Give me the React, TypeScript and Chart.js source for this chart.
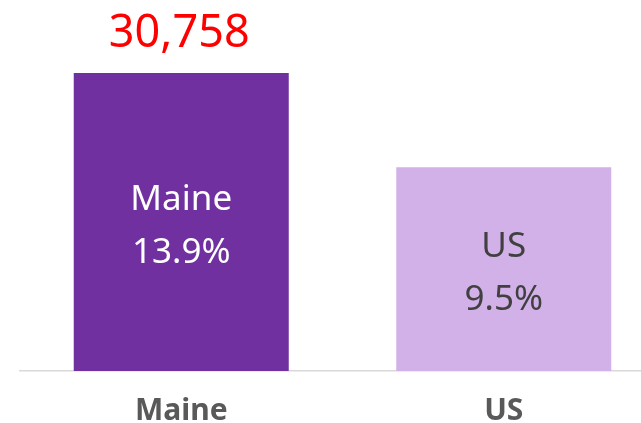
import { useEffect, useRef } from "react";
import { Chart, registerables } from "chart.js";

Chart.register(...registerables);

const categories = ["Maine", "US"];
const rates = [13.9, 9.5];
const counts: (number | null)[] = [30758, null];
const barColors = ["#7030A0", "#D1B1E8"];
const innerTextColors = ["#FFFFFF", "#404040"];
const FONT = "'Noto Sans', 'Open Sans', sans-serif";

const labelPlugin = {
  id: "barLabels",
  afterDatasetsDraw(chart: any) {
    const ctx = chart.ctx;
    const meta = chart.getDatasetMeta(0);
    ctx.save();
    ctx.textAlign = "center";
    ctx.textBaseline = "alphabetic";
    meta.data.forEach((el: any, i: number) => {
      const mid = (el.y + el.base) / 2;
      ctx.fillStyle = innerTextColors[i];
      ctx.font = `35px ${FONT}`;
      ctx.fillText(categories[i], el.x, mid - 12.5);
      ctx.fillText(`${rates[i]}%`, el.x, mid + 40.5);
      const c = counts[i];
      if (c !== null) {
        ctx.fillStyle = "#FF0000";
        ctx.font = `45px ${FONT}`;
        ctx.fillText(c.toLocaleString("en-US"), el.x - 2, el.y - 26);
      }
    });
    ctx.restore();
  },
};

export default function App() {
  const ref = useRef<HTMLCanvasElement>(null);
  useEffect(() => {
    if (!ref.current) return;
    const chart = new Chart(ref.current, {
      type: "bar",
      data: {
        labels: categories,
        datasets: [
          {
            data: rates,
            backgroundColor: barColors,
            borderWidth: 0,
            barPercentage: 0.6667,
            categoryPercentage: 1,
          },
        ],
      },
      options: {
        animation: false,
        responsive: true,
        maintainAspectRatio: false,
        layout: { padding: { top: 28, left: 20, right: 20, bottom: 0 } },
        plugins: { legend: { display: false }, tooltip: { enabled: false } },
        scales: {
          x: {
            grid: { display: false, drawTicks: false },
            border: { display: true, color: "#D9D9D9", width: 1.5 },
            ticks: {
              color: "#595959",
              padding: 22,
              font: { family: FONT, size: 30, weight: "bold" },
            },
          },
          y: {
            display: false,
            min: 0,
            max: 16,
          },
        },
      },
      plugins: [labelPlugin],
    });
    return () => chart.destroy();
  }, []);
  return (
    <div
      style={{
        position: "fixed",
        left: 0,
        top: 0,
        width: 641,
        height: 423,
        overflow: "hidden",
        background: "#fff",
      }}
    >
      <div style={{ position: "relative", width: 685, height: 451 }}>
        <canvas ref={ref} />
      </div>
    </div>
  );
}
